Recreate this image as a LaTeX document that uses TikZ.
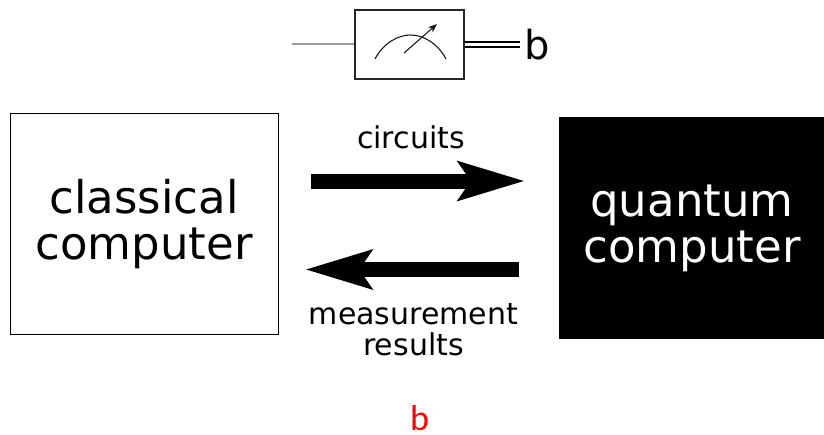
\documentclass[tikz,border=0pt]{standalone}
\usepackage{fontspec}
\setmainfont{DejaVu Sans}
\setsansfont{Carlito}
\usetikzlibrary{arrows.meta}
\tikzset{
  big/.style={font=\fontsize{45}{46}\selectfont, align=center, inner sep=0pt},
  small/.style={font=\fontsize{30}{31}\selectfont, align=center, inner sep=0pt},
  flowarrow/.style={line width=15pt, -{Stealth[length=66pt,width=38pt,inset=12pt,sharp]}},
}
\begin{document}
\begin{tikzpicture}[x=1pt,y=-1pt]
\useasboundingbox (0,0) rectangle (824,434);
% meter
\node[draw=black!85,line width=2.6pt,minimum width=109pt,minimum height=69pt,inner sep=0pt] (meter) at (409.5,44.5) {};
\coordinate (wirein) at (292,44);
\draw[black!40,line width=2pt] (wirein) -- (wirein -| meter.west);
\node[font=\fontsize{40}{42}\selectfont,inner sep=0pt,anchor=base west] (bit) at (524,59) {b};
\draw[black,line width=1.3pt,shorten >=4pt] ([yshift=-2.4pt]meter.east) -- ([yshift=-2.4pt]meter.east -| bit.west);
\draw[black,line width=1.3pt,shorten >=4pt] ([yshift=2.4pt]meter.east) -- ([yshift=2.4pt]meter.east -| bit.west);
\coordinate (arcl) at (375,59);
\coordinate (arcr) at (446,59);
\coordinate (needlea) at (404,53);
\coordinate (needleb) at (437,24);
\draw[black!90,line width=1.1pt] (arcl) .. controls (384,42) and (399,35) .. (410.5,35) .. controls (422,35) and (437,42) .. (arcr);
\draw[black!90,line width=1.1pt,-{Stealth[length=9pt,width=7pt]}] (needlea) -- (needleb);
% boxes
\node[draw=black,line width=.8pt,minimum width=268pt,minimum height=221pt,inner sep=0pt] (cc) at (144.5,223.5) {};
\node[big,anchor=center] (cctext) at (144,224) {classical\\computer};
\node[draw=black,fill=black,minimum width=266pt,minimum height=221pt,inner sep=0pt] (qc) at (692,228) {};
\node[big,text=white,anchor=center] (qctext) at (692,228) {quantum\\computer};
% arrows
\coordinate (a1) at (311,181);
\coordinate (a2) at (525,181);
\coordinate (b1) at (519,269.5);
\coordinate (b2) at (305,269.5);
\draw[flowarrow] (a1) -- (a2);
\draw[flowarrow] (b1) -- (b2);
\node[small] (circ) at (411,137) {circuits};
\node[small] (meas) at (413.5,330) {measurement\\results};
\node[text=red,font=\sffamily\fontsize{36}{38}\selectfont,inner sep=0pt,anchor=base] (redb) at (419.5,430.5) {b};
\end{tikzpicture}
\end{document}
